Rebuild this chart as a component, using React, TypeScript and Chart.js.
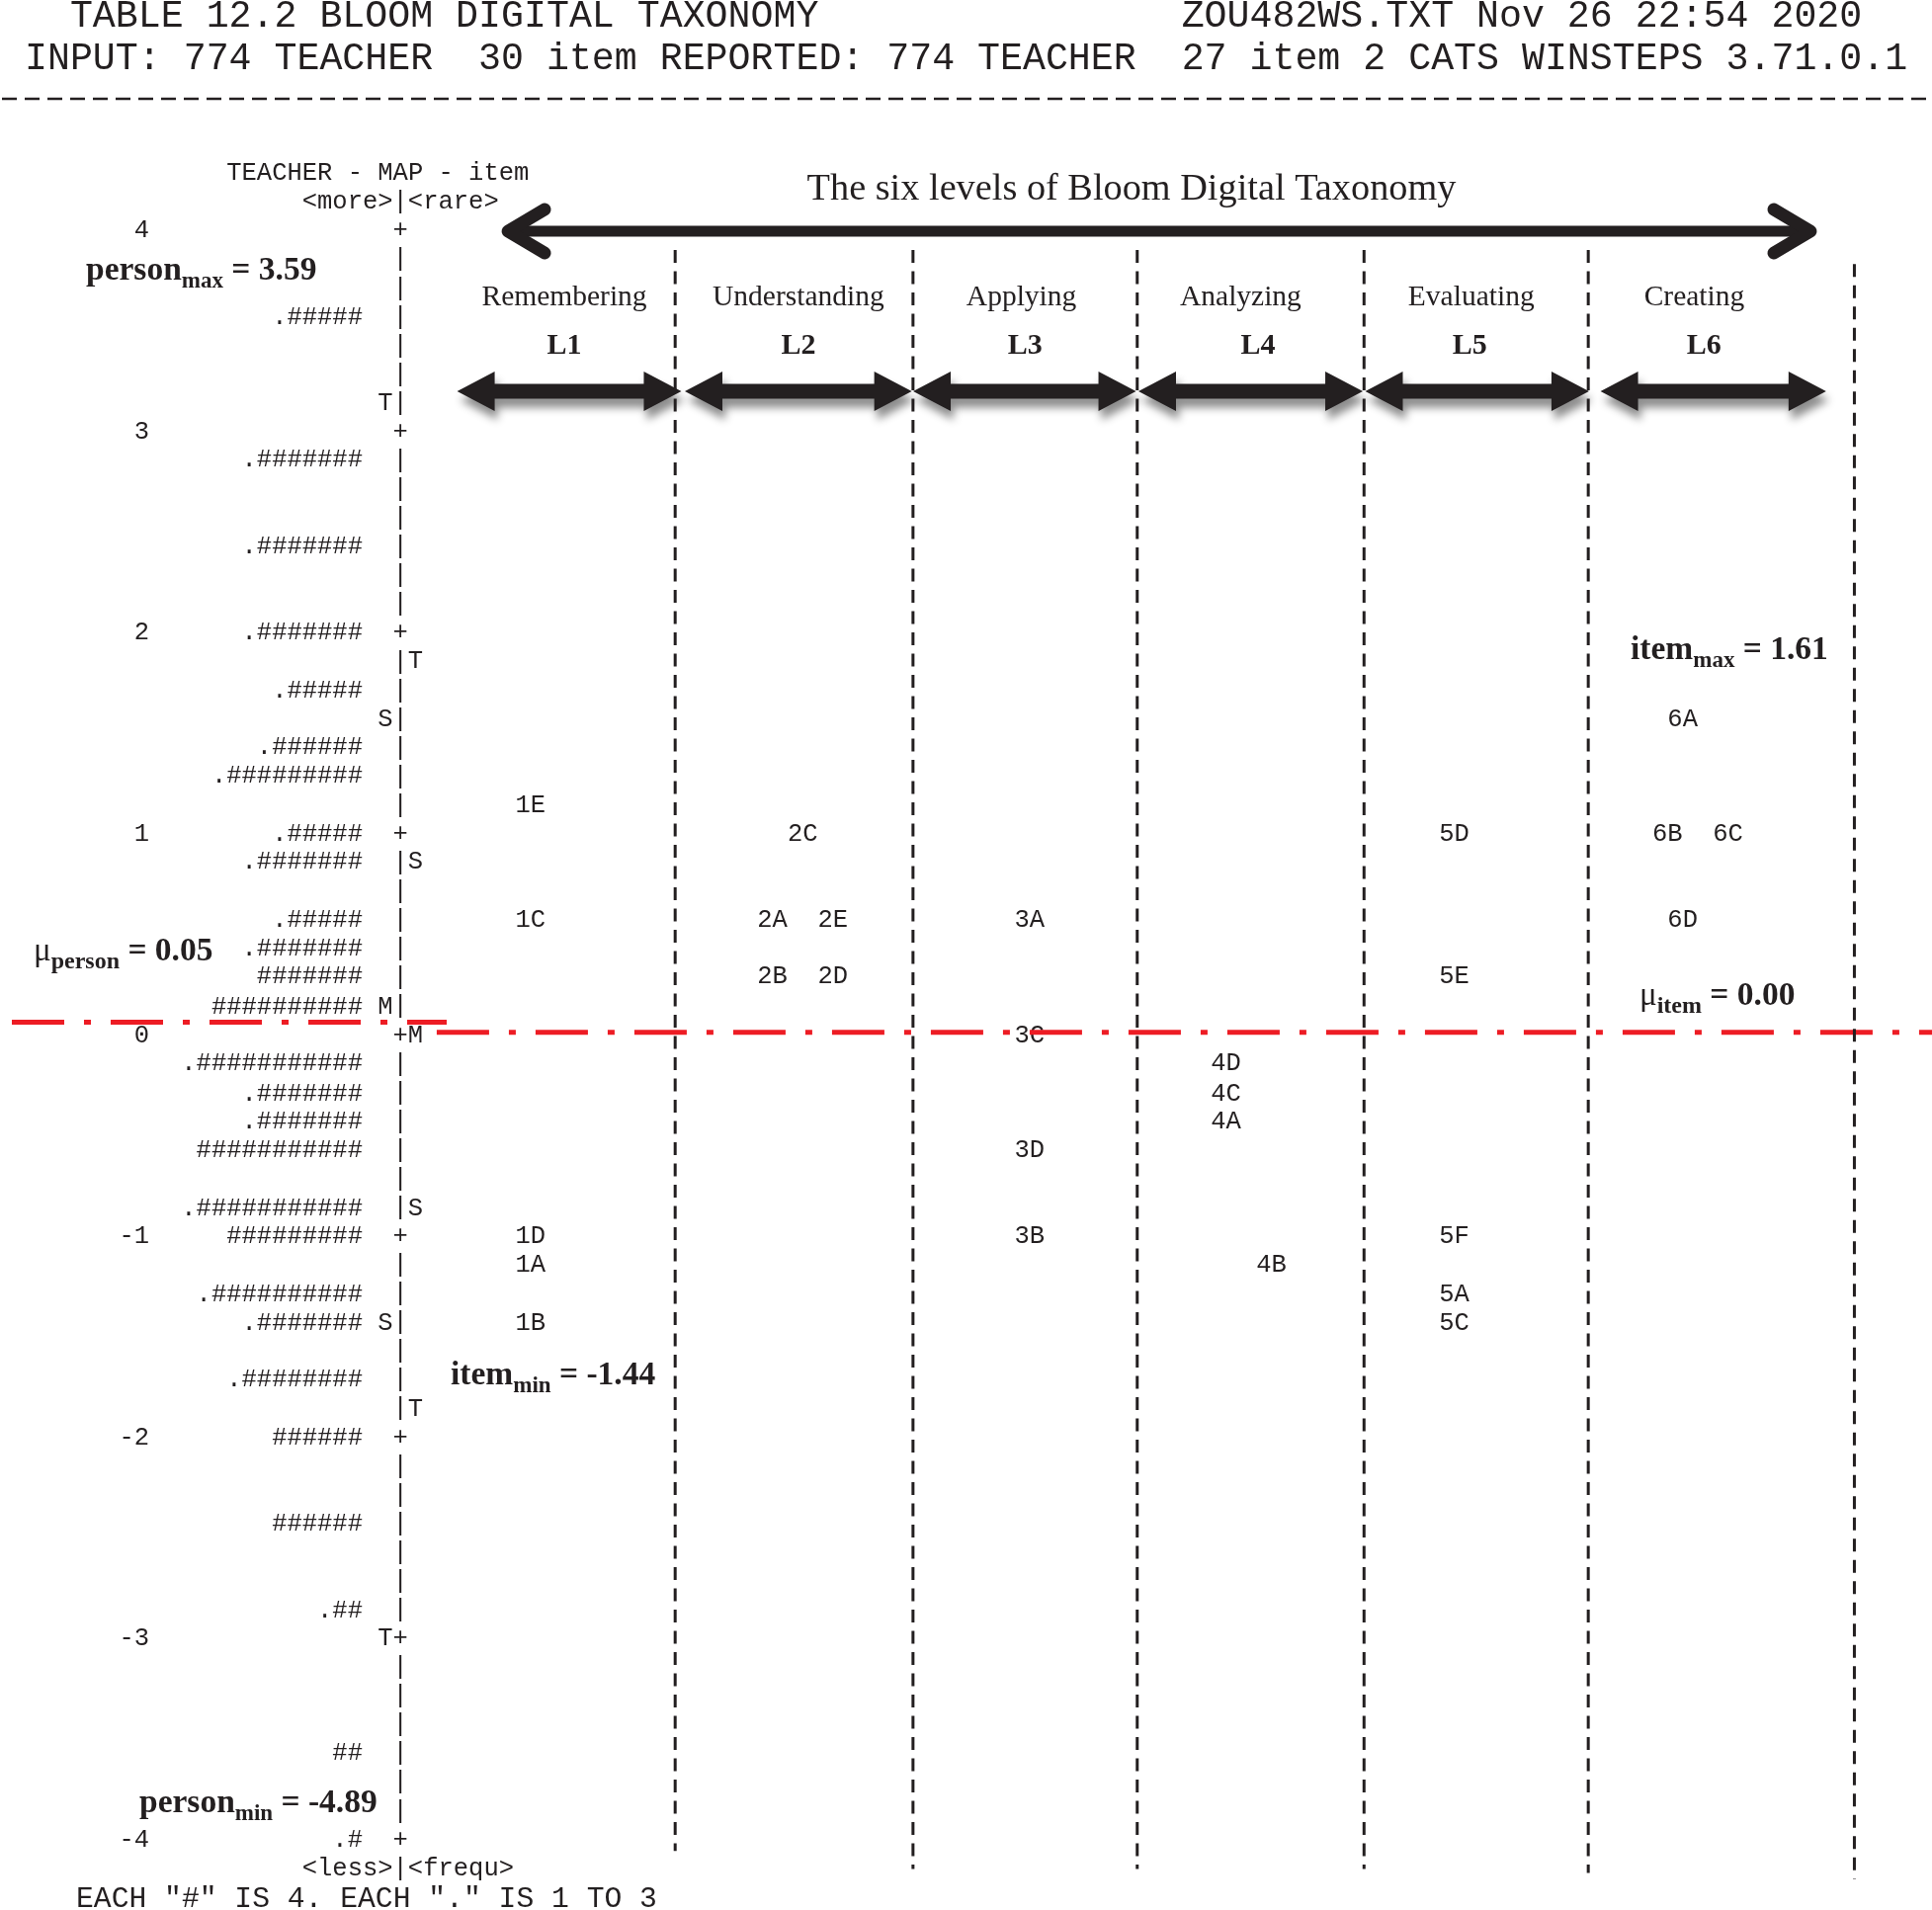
import React, { useEffect, useRef } from 'react';
import { Chart, registerables } from 'chart.js';

Chart.register(...registerables);

const INK = '#231f20';
const RED = '#ed1c24';
const MONO = '"Liberation Mono", "DejaVu Sans Mono", monospace';
const SERIF = '"Liberation Serif", "Times New Roman", serif';

// ---------------- data ----------------
const headerLeft1 = '  TABLE 12.2 BLOOM DIGITAL TAXONOMY';
const headerRight1 = 'ZOU482WS.TXT Nov 26 22:54 2020';
const headerLine2 = 'INPUT: 774 TEACHER  30 item REPORTED: 774 TEACHER  27 item 2 CATS WINSTEPS 3.71.0.1';
const mapTitle = 'TEACHER - MAP - item';
const topAxisLabel = '<more>|<rare>';
const bottomAxisLabel = '<less>|<frequ>';
const footerNote = 'EACH "#" IS 4. EACH "." IS 1 TO 3';
const chartTitle = 'The six levels of Bloom Digital Taxonomy';

const yTickMin = -4;
const yTickMax = 4;
const rowsPerLogit = 7;

const levelNames = ['Remembering', 'Understanding', 'Applying', 'Analyzing', 'Evaluating', 'Creating'];
const levelCodes = ['L1', 'L2', 'L3', 'L4', 'L5', 'L6'];
// boundaries & centres in text-column units (0 = the "|" ruler)
const levelBoundaries = [18.17, 33.9, 48.73, 63.73, 78.56, 96.16];
const levelNameCenters = [10.84, 26.32, 41.07, 55.57, 70.82, 85.57];
const levelCodeCenters = [10.84, 26.32, 41.31, 56.72, 70.73, 86.21];
const levelArrowStart = [3.75, 18.81, 33.91, 48.81, 63.81, 79.37];
const levelArrowEnd = [18.58, 33.82, 48.65, 63.65, 78.61, 94.29];

const itemLabels = ['1E', '1C', '1D', '1A', '1B', '2C', '2A', '2E', '2B', '2D', '3A', '3C', '3D', '3B', '4D', '4C', '4A', '4B', '5D', '5E', '5F', '5A', '5C', '6A', '6B', '6C', '6D'];
const itemMeasures = [1.14, 0.57, -1.0, -1.14, -1.43, 1.0, 0.57, 0.57, 0.29, 0.29, 0.57, 0.0, -0.57, -1.0, -0.14, -0.29, -0.43, -1.14, 1.0, 0.29, -1.0, -1.29, -1.43, 1.57, 1.0, 1.0, 0.57];
const itemColumns = [8.6, 8.6, 8.6, 8.6, 8.6, 26.6, 24.6, 28.6, 24.6, 28.6, 41.6, 41.6, 41.6, 41.6, 54.6, 54.6, 54.6, 57.6, 69.7, 69.7, 69.7, 69.7, 69.7, 84.8, 83.8, 87.8, 84.8];

const personMeasures = [3.57, 2.86, 2.43, 2.0, 1.71, 1.43, 1.29, 1.0, 0.86, 0.57, 0.43, 0.29, 0.14, -0.14, -0.29, -0.43, -0.57, -0.86, -1.0, -1.29, -1.43, -1.71, -2.0, -2.43, -2.86, -3.57, -4.0];
const personHashes = [5, 7, 7, 7, 5, 6, 9, 5, 7, 5, 7, 7, 10, 11, 7, 7, 11, 11, 9, 10, 7, 8, 6, 6, 2, 2, 1];
const personDots = [1, 1, 1, 1, 1, 1, 1, 1, 1, 1, 1, 0, 0, 1, 1, 1, 0, 1, 0, 1, 1, 1, 0, 0, 1, 0, 1];

const personMarkerMeasures = [3.14, 1.57, 0.14, -1.43, -3.0];
const personMarkerLabels = ['T', 'S', 'M', 'S', 'T'];
const itemMarkerMeasures = [1.86, 0.86, 0.0, -0.86, -1.86];
const itemMarkerLabels = ['T', 'S', 'M', 'S', 'T'];

const personMax = 3.59;
const personMin = -4.89;
const itemMax = 1.61;
const itemMin = -1.44;
const muPerson = 0.05;
const muItem = 0.0;

// ---------------- layout ----------------
const W = 1955;
const H = 1933;
const COL_W = 15.3;
const RULER_X = 405.2;
const AXIS_W = 160;
const X_MIN = (AXIS_W - RULER_X) / COL_W;
const X_MAX = (W - RULER_X) / COL_W;
const TXT_DY = 3;
const vLineTop = [3.89, 3.89, 3.89, 3.89, 3.89, 3.82];
const vLineBottom = [-4.07, -4.16, -4.16, -4.16, -4.18, -4.21];

function drawRich(ctx: CanvasRenderingContext2D, x: number, baseline: number, parts: { t: string; f: string; dy?: number }[]) {
  let cx = x;
  for (const p of parts) {
    ctx.font = p.f;
    ctx.fillText(p.t, cx, baseline + (p.dy || 0));
    cx += ctx.measureText(p.t).width;
  }
}

function levelArrow(ctx: CanvasRenderingContext2D, x0: number, x1: number, yc: number) {
  const hl = 38, hh = 20, st = 7.5;
  ctx.save();
  ctx.shadowColor = 'rgba(0,0,0,0.45)';
  ctx.shadowBlur = 9;
  ctx.shadowOffsetX = 3;
  ctx.shadowOffsetY = 9;
  ctx.fillStyle = INK;
  ctx.beginPath();
  ctx.moveTo(x0, yc);
  ctx.lineTo(x0 + hl, yc - hh);
  ctx.lineTo(x0 + hl, yc - st);
  ctx.lineTo(x1 - hl, yc - st);
  ctx.lineTo(x1 - hl, yc - hh);
  ctx.lineTo(x1, yc);
  ctx.lineTo(x1 - hl, yc + hh);
  ctx.lineTo(x1 - hl, yc + st);
  ctx.lineTo(x0 + hl, yc + st);
  ctx.lineTo(x0 + hl, yc + hh);
  ctx.closePath();
  ctx.fill();
  ctx.restore();
}

export default function App() {
  const ref = useRef<HTMLCanvasElement>(null);

  useEffect(() => {
    const canvas = ref.current;
    if (!canvas) return;

    const wrightPlugin = {
      id: 'wrightText',
      beforeDatasetsDraw(chart: any) {
        const ctx: CanvasRenderingContext2D = chart.ctx;
        const xs = chart.scales.x;
        const ys = chart.scales.y;
        const X = (v: number) => xs.getPixelForValue(v);
        const Y = (v: number) => ys.getPixelForValue(v) + TXT_DY;
        const step = 1 / rowsPerLogit;
        ctx.save();
        ctx.fillStyle = INK;

        // header
        ctx.font = `38.25px ${MONO}`;
        ctx.textBaseline = 'middle';
        ctx.textAlign = 'left';
        ctx.fillText(headerLeft1.padEnd(51, ' ') + headerRight1, 25, 17);
        ctx.fillText(headerLine2, 25, 60);
        ctx.save();
        ctx.strokeStyle = INK;
        ctx.lineWidth = 2.5;
        ctx.setLineDash([15, 8]);
        ctx.beginPath();
        ctx.moveTo(2, 100);
        ctx.lineTo(W, 100);
        ctx.stroke();
        ctx.restore();

        // map header / footer
        ctx.font = `25.5px ${MONO}`;
        ctx.fillText(mapTitle, X(-11.5), Y(yTickMax + 2 * step));
        ctx.fillText(topAxisLabel, X(-6.5), Y(yTickMax + step));
        ctx.fillText(bottomAxisLabel, X(-6.5), Y(yTickMin - step));
        ctx.font = `29.7px ${MONO}`;
        ctx.fillText(footerNote, 77, Y(yTickMin - 2 * step) + 2);

        // ruler
        ctx.font = `25.5px ${MONO}`;
        ctx.textAlign = 'center';
        const nRows = (yTickMax - yTickMin) * rowsPerLogit;
        for (let r = 0; r <= nRows; r++) {
          const v = yTickMax - r / rowsPerLogit;
          ctx.fillText(r % rowsPerLogit === 0 ? '+' : '|', X(0), Y(v));
        }
        personMarkerMeasures.forEach((m, i) => ctx.fillText(personMarkerLabels[i], X(-1), Y(m)));
        itemMarkerMeasures.forEach((m, i) => ctx.fillText(itemMarkerLabels[i], X(1), Y(m)));

        // persons
        ctx.textAlign = 'right';
        const pm = chart.getDatasetMeta(0);
        pm.data.forEach((pt: any, i: number) => {
          ctx.fillText((personDots[i] ? '.' : '') + '#'.repeat(personHashes[i]), pt.x, pt.y + TXT_DY);
        });

        // items
        ctx.textAlign = 'center';
        const im = chart.getDatasetMeta(1);
        im.data.forEach((pt: any, i: number) => ctx.fillText(itemLabels[i], pt.x, pt.y + TXT_DY));

        // title and big arrow
        ctx.font = `38.3px ${SERIF}`;
        ctx.fillText(chartTitle, 1145, 192);
        ctx.save();
        ctx.strokeStyle = INK;
        ctx.lineCap = 'round';
        ctx.lineJoin = 'round';
        const ax0 = X(6.92), ax1 = X(93.45), ay = 234;
        ctx.lineWidth = 11;
        ctx.beginPath();
        ctx.moveTo(ax0 + 6, ay);
        ctx.lineTo(ax1 - 6, ay);
        ctx.stroke();
        ctx.lineWidth = 13;
        ctx.beginPath();
        ctx.moveTo(ax0 + 40, ay - 22);
        ctx.lineTo(ax0 + 3, ay);
        ctx.lineTo(ax0 + 40, ay + 22);
        ctx.stroke();
        ctx.beginPath();
        ctx.moveTo(ax1 - 40, ay - 22);
        ctx.lineTo(ax1 - 3, ay);
        ctx.lineTo(ax1 - 40, ay + 22);
        ctx.stroke();
        ctx.restore();

        // level labels and arrows
        levelNames.forEach((name, i) => {
          ctx.fillStyle = INK;
          ctx.textAlign = 'center';
          ctx.textBaseline = 'middle';
          ctx.font = `29.5px ${SERIF}`;
          ctx.fillText(name, X(levelNameCenters[i]), 301);
          ctx.font = `bold 30px ${SERIF}`;
          ctx.fillText(levelCodes[i], X(levelCodeCenters[i]), 350);
          levelArrow(ctx, X(levelArrowStart[i]), X(levelArrowEnd[i]), 396);
        });

        // annotations
        ctx.fillStyle = INK;
        ctx.textAlign = 'left';
        ctx.textBaseline = 'alphabetic';
        const B = `bold 33.5px ${SERIF}`;
        const S = `bold 23px ${SERIF}`;
        const S2 = `bold 24px ${SERIF}`;
        const R = `33px ${SERIF}`;
        drawRich(ctx, 87, 283, [{ t: 'person', f: B }, { t: 'max', f: S, dy: 8 }, { t: ' = ' + personMax.toFixed(2), f: B }]);
        drawRich(ctx, 34, 972, [{ t: 'μ', f: R }, { t: 'person', f: S2, dy: 8 }, { t: ' = ' + muPerson.toFixed(2), f: B }]);
        drawRich(ctx, 1650, 667, [{ t: 'item', f: B }, { t: 'max', f: S, dy: 8 }, { t: ' = ' + itemMax.toFixed(2), f: B }]);
        drawRich(ctx, 1659, 1017, [{ t: 'μ', f: R }, { t: 'item', f: S2, dy: 8 }, { t: ' = ' + muItem.toFixed(2), f: B }]);
        drawRich(ctx, 456, 1401, [{ t: 'item', f: B }, { t: 'min', f: S, dy: 8 }, { t: ' = ' + itemMin.toFixed(2), f: B }]);
        drawRich(ctx, 141, 1834, [{ t: 'person', f: B }, { t: 'min', f: S, dy: 8 }, { t: ' = ' + personMin.toFixed(2), f: B }]);

        ctx.restore();
      },
    };

    const vLines = levelBoundaries.map((b, i) => ({
      data: [{ x: b, y: vLineTop[i] }, { x: b, y: vLineBottom[i] }],
      showLine: true,
      borderColor: INK,
      borderWidth: 3,
      borderDash: [13, 8.5],
      pointRadius: 0,
      clip: false as any,
    }));

    const chart = new Chart(canvas, {
      type: 'scatter',
      data: {
        datasets: [
          {
            data: personMeasures.map((m) => ({ x: -2.5, y: m })),
            pointRadius: 0,
            clip: false as any,
          },
          {
            data: itemMeasures.map((m, i) => ({ x: itemColumns[i], y: m })),
            pointRadius: 0,
            clip: false as any,
          },
          ...vLines,
          {
            data: [{ x: -25.7, y: muPerson }, { x: 3.06, y: muPerson }],
            showLine: true,
            borderColor: RED,
            borderWidth: 5,
            borderDash: [53, 20, 7, 20],
            pointRadius: 0,
            clip: false as any,
          },
          {
            data: [{ x: 2.4, y: muItem }, { x: X_MAX, y: muItem }],
            showLine: true,
            borderColor: RED,
            borderWidth: 5,
            borderDash: [53, 20, 7, 20],
            pointRadius: 0,
            clip: false as any,
          },
        ] as any,
      },
      options: {
        animation: false,
        responsive: true,
        maintainAspectRatio: false,
        events: [],
        layout: { padding: { left: 0, right: 0, top: 230.6, bottom: 74.1 } },
        plugins: { legend: { display: false }, tooltip: { enabled: false } },
        scales: {
          x: { type: 'linear', display: false, min: X_MIN, max: X_MAX },
          y: {
            type: 'linear',
            position: 'left',
            min: yTickMin,
            max: yTickMax,
            grid: { display: false, drawTicks: false },
            border: { display: false },
            ticks: { stepSize: 1, autoSkip: false, padding: 9, labelOffset: TXT_DY, color: INK, font: { family: MONO, size: 25.5 } },
            afterFit: (s: any) => {
              s.width = AXIS_W;
            },
          },
        },
      } as any,
      plugins: [wrightPlugin],
    });

    return () => chart.destroy();
  }, []);

  return (
    <div style={{ position: 'absolute', left: 0, top: 0, width: W, height: H, background: '#fff' }}>
      <canvas ref={ref} />
    </div>
  );
}
